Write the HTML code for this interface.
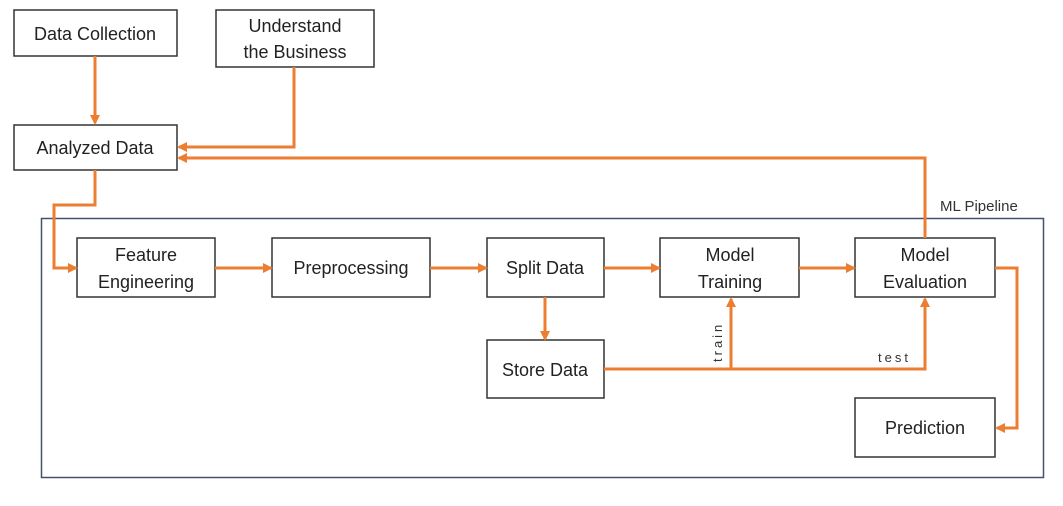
<!DOCTYPE html>
<html><head><style>
body{margin:0;background:#fff;}
</style></head><body>
<svg width="1063" height="501" xmlns="http://www.w3.org/2000/svg" font-family="Liberation Sans, sans-serif">
<defs><marker id="a" markerWidth="10" markerHeight="10" refX="8" refY="5" orient="auto" markerUnits="userSpaceOnUse"><path d="M0,0 L10,5 L0,10 z" fill="#ED7D31"/></marker></defs>
<rect x="41.5" y="218.5" width="1002" height="259" fill="none" stroke="#44546A" stroke-width="1.5"/>
<text x="940" y="211" font-size="15" fill="#333">ML Pipeline</text>
<g fill="#fff" stroke="#333" stroke-width="1.5">
<rect x="14" y="10" width="163" height="46"/>
<rect x="216" y="10" width="158" height="57"/>
<rect x="14" y="125" width="163" height="45"/>
<rect x="77" y="238" width="138" height="59"/>
<rect x="272" y="238" width="158" height="59"/>
<rect x="487" y="238" width="117" height="59"/>
<rect x="660" y="238" width="139" height="59"/>
<rect x="855" y="238" width="140" height="59"/>
<rect x="487" y="340" width="117" height="58"/>
<rect x="855" y="398" width="140" height="59"/>
</g>
<g font-size="18" fill="#222" text-anchor="middle">
<text x="95" y="40">Data Collection</text>
<text x="295" y="32">Understand</text><text x="295" y="58">the Business</text>
<text x="95" y="154">Analyzed Data</text>
<text x="146" y="261">Feature</text><text x="146" y="288">Engineering</text>
<text x="351" y="274">Preprocessing</text>
<text x="545" y="274">Split Data</text>
<text x="730" y="261">Model</text><text x="730" y="288">Training</text>
<text x="925" y="261">Model</text><text x="925" y="288">Evaluation</text>
<text x="545" y="376">Store Data</text>
<text x="925" y="434">Prediction</text>
</g>
<text x="878" y="362" font-size="13" fill="#333" letter-spacing="3">test</text>
<text transform="translate(722,362) rotate(-90)" font-size="13" fill="#333" letter-spacing="3">train</text>
<g fill="none" stroke="#ED7D31" stroke-width="3" marker-end="url(#a)">
<path d="M95,56 V123"/>
<path d="M294,67 V147 H179"/>
<path d="M925,238 V158 H179"/>
<path d="M95,170 V205 H54 V268 H76"/>
<path d="M215,268 H271"/>
<path d="M430,268 H486"/>
<path d="M604,268 H659"/>
<path d="M799,268 H854"/>
<path d="M545,297 V339"/>
<path d="M604,369 H925 V299"/>
<path d="M731,369 V299"/>
<path d="M995,268 H1017 V428 H997"/>
</g>
</svg>
</body></html>
